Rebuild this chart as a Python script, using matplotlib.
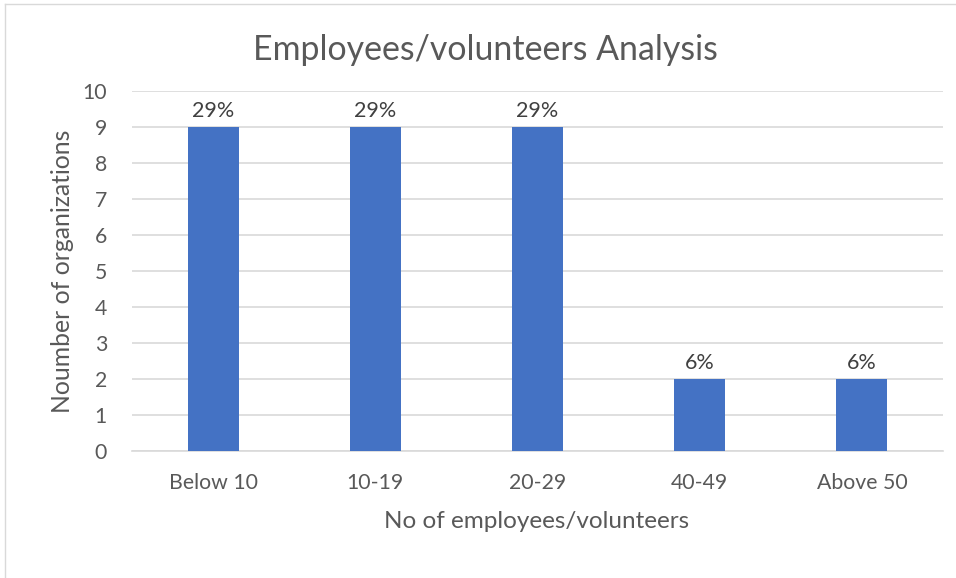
import matplotlib.pyplot as plt
from matplotlib.lines import Line2D

# data
categories = ['Below 10', '10-19', '20-29', '40-49', 'Above 50']
counts = [9, 9, 9, 2, 2]
pct_labels = ['29%', '29%', '29%', '6%', '6%']

plt.rcParams['font.family'] = ['Lato', 'DejaVu Sans']
txt = '#595959'

W, H = 956, 578
fig = plt.figure(figsize=(W / 100, H / 100), dpi=100)
ax = fig.add_axes([132 / W, 1 - 451 / H, 811 / W, 360 / H])

x = range(len(categories))
ax.bar(x, counts, width=0.315, color='#4472C4', zorder=3)
ax.set_xlim(-0.5, len(categories) - 0.5)
ax.set_ylim(0, 10)
ax.set_yticks(range(0, 11))
ax.set_xticks(list(x))
ax.set_xticklabels(categories)

for i, (v, s) in enumerate(zip(counts, pct_labels)):
    ax.annotate(s, (i, v), xytext=(0, 4), textcoords='offset points',
                ha='center', va='bottom', fontsize=15.5, color='#404040')

ax.grid(axis='y', color='#D9D9D9', linewidth=1.2, zorder=0)
for sp in ['top', 'right', 'left']:
    ax.spines[sp].set_visible(False)
ax.spines['bottom'].set_color('#D9D9D9')
ax.spines['bottom'].set_linewidth(1.2)
ax.tick_params(length=0, labelsize=15.3, labelcolor=txt)
ax.tick_params(axis='x', pad=16)
ax.tick_params(axis='y', pad=18)

ax.set_ylabel('Noumber of organizations', fontsize=17.8, color=txt)
ax.yaxis.set_label_coords((62 - 132) / 811, 0.5)
ax.set_xlabel('No of employees/volunteers', fontsize=17.5, color=txt)
ax.xaxis.set_label_coords((537 - 132) / 811, -(522 - 451) / 360)
ax.xaxis.label.set_va('center')
ax.yaxis.label.set_va('center')
fig.text(485 / W, 1 - 50 / H, 'Employees/volunteers Analysis', ha='center',
         va='center', fontsize=24.4, color=txt)

# chart frame (only left and top visible in the crop)
fig.add_artist(Line2D([5 / W, 5 / W], [0, 1 - 4 / H], color='#D9D9D9', lw=1))
fig.add_artist(Line2D([5 / W, 1], [1 - 4 / H, 1 - 4 / H], color='#D9D9D9', lw=1))

fig.savefig('out.png', dpi=100)
